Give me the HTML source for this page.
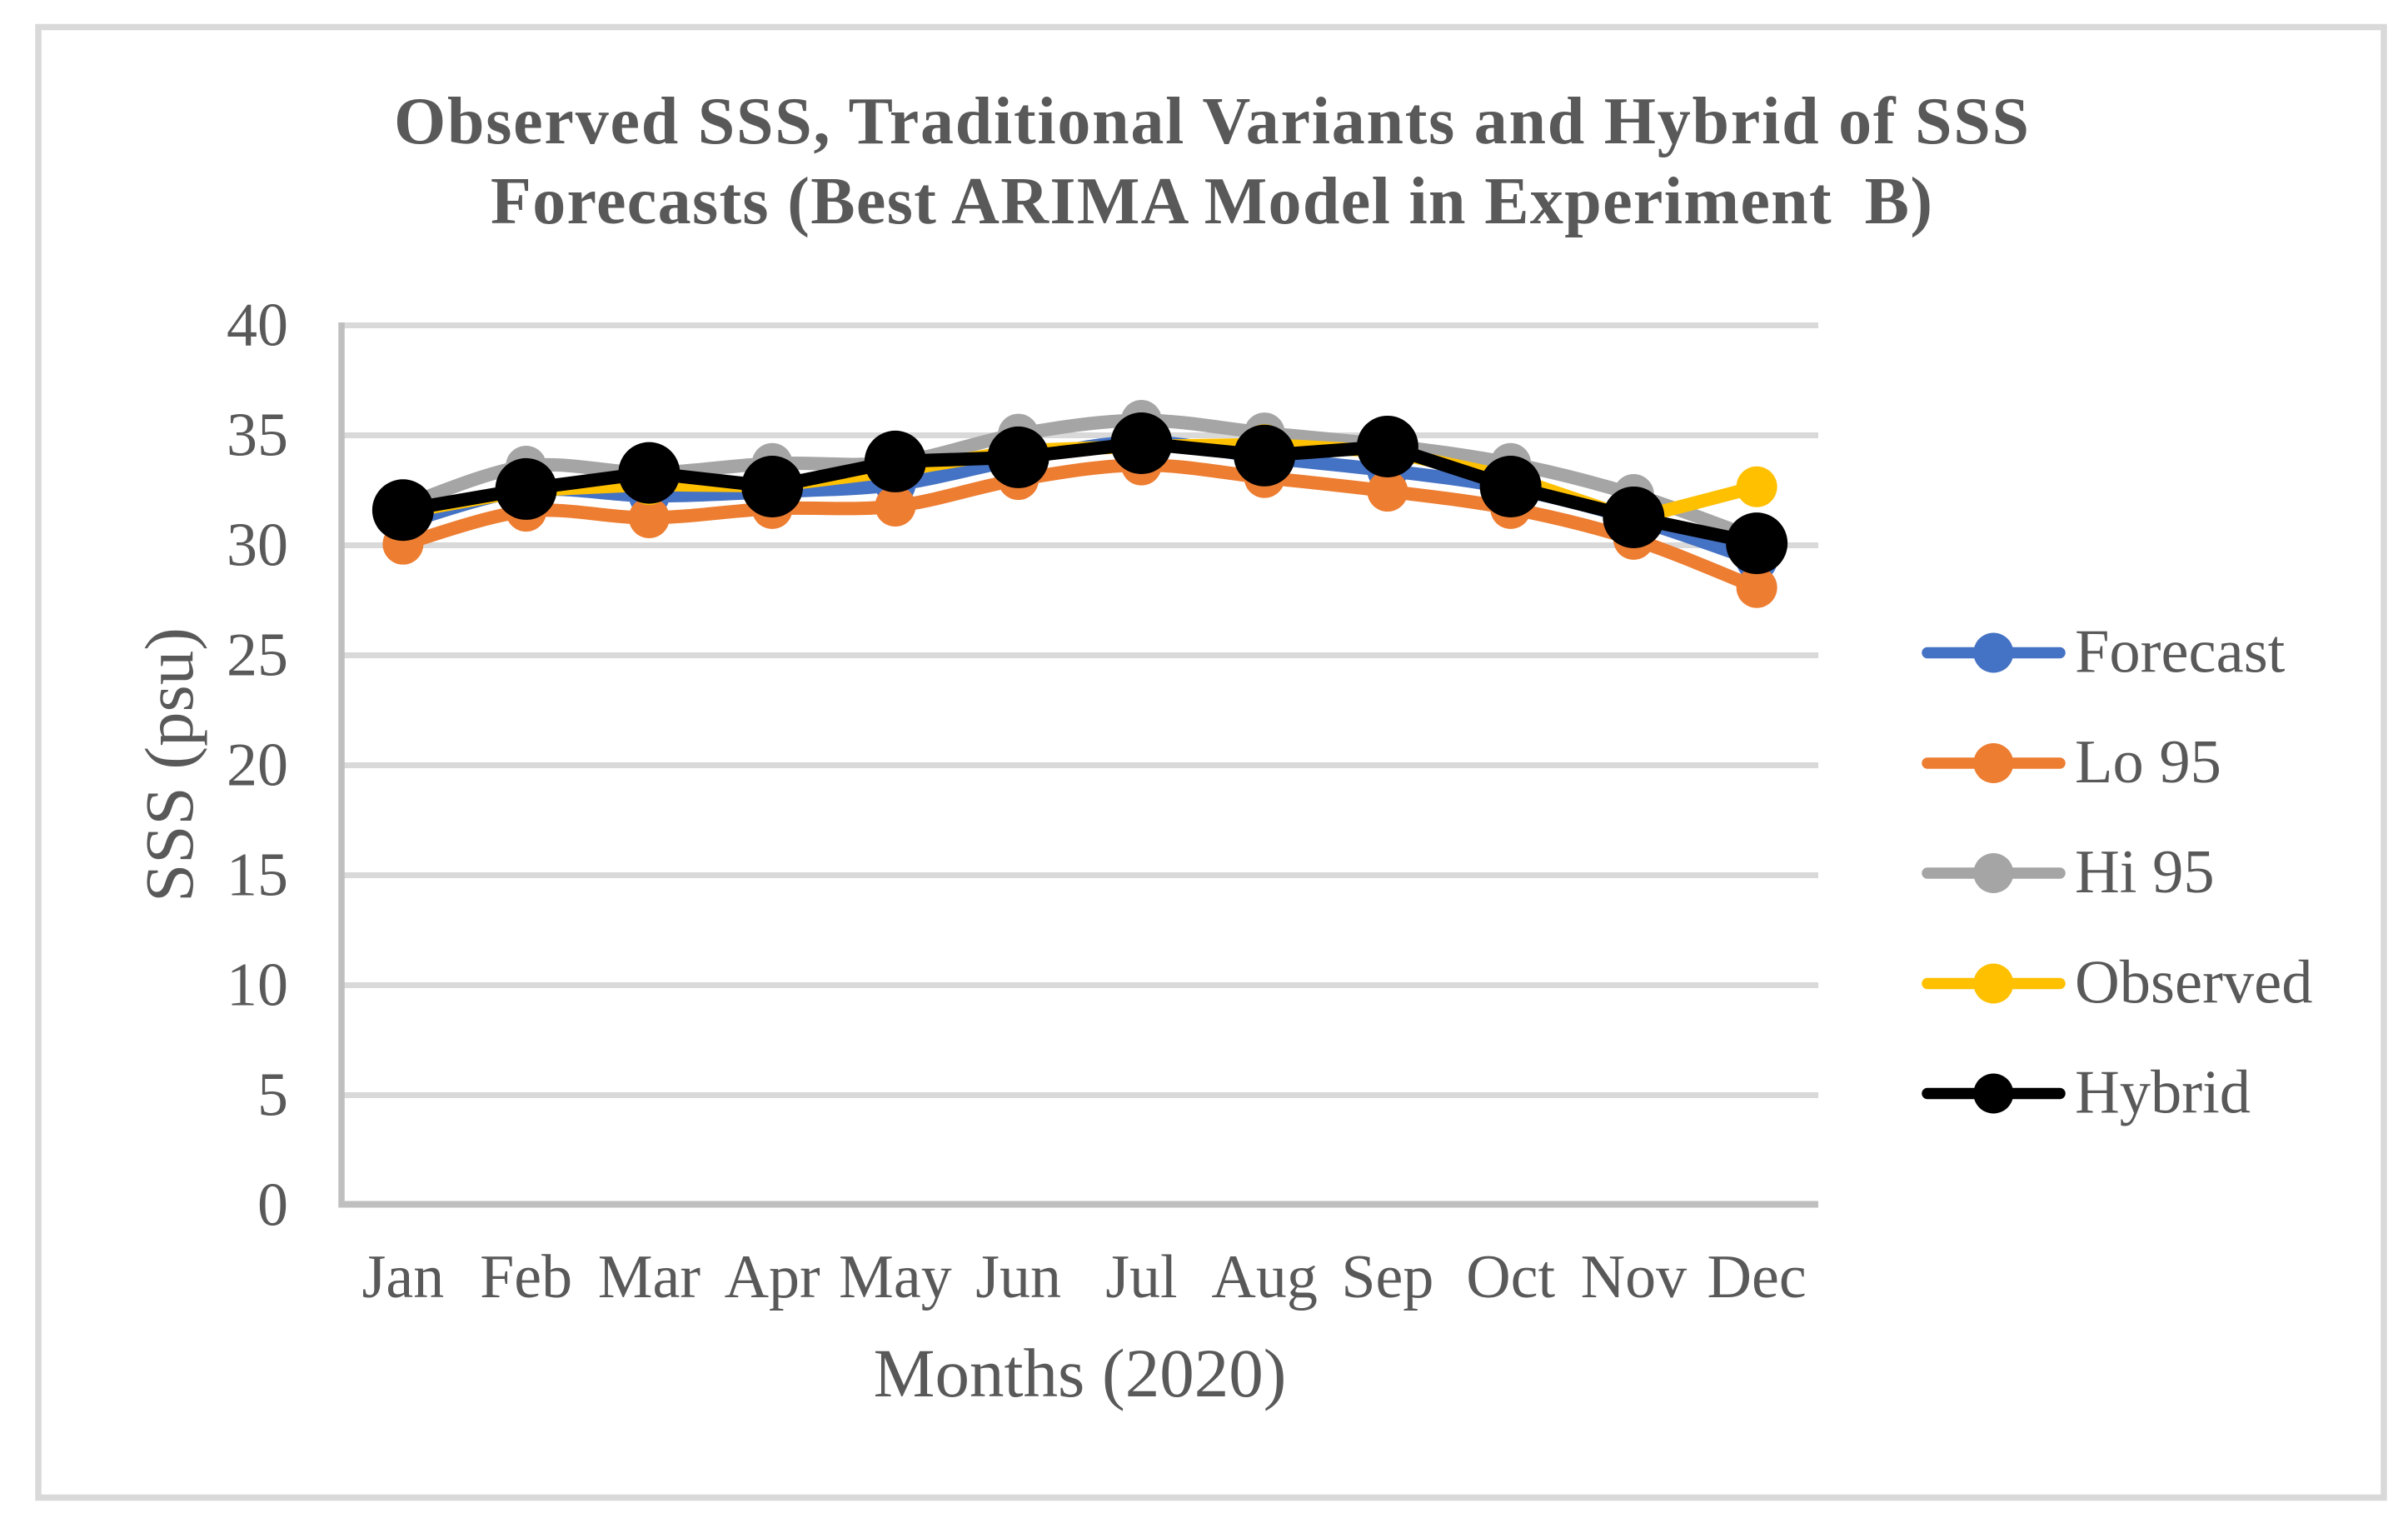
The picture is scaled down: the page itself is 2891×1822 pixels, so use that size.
<!DOCTYPE html>
<html lang="en">
<head>
<meta charset="utf-8">
<title>Observed SSS, Traditional Variants and Hybrid of SSS Forecasts</title>
<style>
  html, body { margin: 0; padding: 0; background: #fff; }
  svg { display: block; }
  text { font-family: "Liberation Serif", "Times New Roman", serif; fill: #595959; }
</style>
</head>
<body>
<svg id="chart" xmlns="http://www.w3.org/2000/svg" width="2891" height="1822" viewBox="0 0 2891 1822">
  <rect x="0" y="0" width="2891" height="1822" fill="#ffffff"/>
  <rect x="46" y="32.5" width="2816" height="1765" fill="#ffffff" stroke="#D9D9D9" stroke-width="7.5"/>
  <g font-weight="700" font-size="80" text-anchor="middle">
    <text x="1454.5" y="172" textLength="1963" lengthAdjust="spacing">Observed SSS, Traditional Variants and Hybrid of SSS</text>
    <text x="1454.5" y="268" textLength="1731" lengthAdjust="spacing">Forecasts (Best ARIMA Model in Experiment&#160;&#8201;B)</text>
  </g>
  <g id="grid"></g>
  <g id="axes"></g>
  <g id="ylabels" font-size="74" text-anchor="end"></g>
  <g id="xlabels" font-size="74" text-anchor="middle"></g>
  <text font-size="83" text-anchor="middle" transform="translate(231 918) rotate(-90)">SSS (psu)</text>
  <text font-size="83" text-anchor="middle" x="1296.5" y="1676">Months (2020)</text>
  <g id="series"></g>
  <g id="legend" font-size="74.5"></g>
</svg>
<script>
const months = ['Jan','Feb','Mar','Apr','May','Jun','Jul','Aug','Sep','Oct','Nov','Dec'];
const yTicks = [0, 5, 10, 15, 20, 25, 30, 35, 40];
const forecast = [31.0, 32.5, 32.25, 32.44, 32.76, 33.9, 34.7, 34.0, 33.4, 32.6, 31.2, 29.3];
const lo95 = [30.05, 31.55, 31.25, 31.67, 31.78, 32.99, 33.65, 33.08, 32.46, 31.67, 30.27, 28.08];
const hi95 = [31.8, 33.6, 33.3, 33.72, 33.77, 35.05, 35.68, 35.11, 34.55, 33.72, 32.31, 30.3];
const observed = [31.5, 32.5, 32.76, 32.7, 33.39, 34.3, 34.5, 34.58, 34.27, 33.1, 31.2, 32.66];
const hybrid = [31.6, 32.56, 33.29, 32.67, 33.81, 34.0, 34.64, 34.08, 34.49, 32.67, 31.27, 30.09];

const NS = 'http://www.w3.org/2000/svg';
const plotLeft = 410, plotRight = 2183, plotTop = 390.5, plotBottom = 1446.5;
const yMax = 40;

function xScale(i) {
  return plotLeft + (plotRight - plotLeft) * (i + 0.5) / months.length;
}
function yScale(v) {
  return plotBottom - (plotBottom - plotTop) * v / yMax;
}
function make(tag, attrs) {
  const el = document.createElementNS(NS, tag);
  for (const k in attrs) el.setAttribute(k, attrs[k]);
  return el;
}
function straightPath(values) {
  return values.map((v, i) => (i ? 'L' : 'M') + xScale(i).toFixed(1) + ' ' + yScale(v).toFixed(1)).join(' ');
}
function smoothPath(values) {
  const pts = values.map((v, i) => [xScale(i), yScale(v)]);
  let d = 'M' + pts[0][0].toFixed(1) + ' ' + pts[0][1].toFixed(1);
  for (let i = 0; i < pts.length - 1; i++) {
    const p0 = pts[Math.max(i - 1, 0)], p1 = pts[i], p2 = pts[i + 1], p3 = pts[Math.min(i + 2, pts.length - 1)];
    const c1x = p1[0] + (p2[0] - p0[0]) / 6, c1y = p1[1] + (p2[1] - p0[1]) / 6;
    const c2x = p2[0] - (p3[0] - p1[0]) / 6, c2y = p2[1] - (p3[1] - p1[1]) / 6;
    d += ' C' + c1x.toFixed(1) + ' ' + c1y.toFixed(1) + ' ' + c2x.toFixed(1) + ' ' + c2y.toFixed(1) + ' ' + p2[0].toFixed(1) + ' ' + p2[1].toFixed(1);
  }
  return d;
}

const gridG = document.getElementById('grid');
const yLabelG = document.getElementById('ylabels');
yTicks.forEach(t => {
  if (t !== 0) {
    const line = make('line', { x1: plotLeft, x2: plotRight, y1: yScale(t), y2: yScale(t), stroke: '#D9D9D9', 'stroke-width': 7 });
    
    
    gridG.appendChild(line);
  }
  const label = make('text', { x: 346, y: yScale(t) + 24 });
  
  
  label.textContent = t;
  yLabelG.appendChild(label);
});

const axesG = document.getElementById('axes');
const yAxis = make('line', { x1: plotLeft, x2: plotLeft, y1: plotTop - 3.5, y2: plotBottom + 3, stroke: '#BFBFBF', 'stroke-width': 7.5 });


axesG.appendChild(yAxis);
const xAxis = make('line', { x1: plotLeft - 3.5, x2: plotRight, y1: plotBottom - 1, y2: plotBottom - 1, stroke: '#BFBFBF', 'stroke-width': 8 });


axesG.appendChild(xAxis);

const xLabelG = document.getElementById('xlabels');
months.forEach((m, i) => {
  const label = make('text', { x: xScale(i), y: 1557 });
  
  
  label.textContent = m;
  xLabelG.appendChild(label);
});

const seriesG = document.getElementById('series');
function drawSeries(key, values, color, smooth, radius) {
  const g = make('g', {});
  
  
  const path = make('path', {
    d: smooth ? smoothPath(values) : straightPath(values),
    fill: 'none', stroke: color, 'stroke-width': 16,
    'stroke-linecap': 'round', 'stroke-linejoin': 'round'
  });
  
  
  g.appendChild(path);
  values.forEach((v, i) => {
    const c = make('circle', { cx: xScale(i), cy: yScale(v), r: radius, fill: color });
    
    
    g.appendChild(c);
  });
  seriesG.appendChild(g);
}
drawSeries('forecast', forecast, '#4472C4', true, 24.5);
drawSeries('lo-95', lo95, '#ED7D31', true, 24.5);
drawSeries('hi-95', hi95, '#A5A5A5', true, 24.5);
drawSeries('observed', observed, '#FFC000', false, 24.5);
drawSeries('hybrid', hybrid, '#000000', false, 37);

const legendG = document.getElementById('legend');
function drawLegendEntry(key, label, color, y) {
  const g = make('g', {});
  
  
  const line = make('line', { x1: 2314, x2: 2473, y1: y, y2: y, stroke: color, 'stroke-width': 13.5, 'stroke-linecap': 'round' });
  
  
  g.appendChild(line);
  const dot = make('circle', { cx: 2393.3, cy: y, r: 24, fill: color });
  
  
  g.appendChild(dot);
  const txt = make('text', { x: 2491, y: y + 23 });
  
  
  txt.textContent = label;
  g.appendChild(txt);
  legendG.appendChild(g);
}
drawLegendEntry('forecast', 'Forecast', '#4472C4', 783.5);
drawLegendEntry('lo-95', 'Lo 95', '#ED7D31', 916);
drawLegendEntry('hi-95', 'Hi 95', '#A5A5A5', 1048);
drawLegendEntry('observed', 'Observed', '#FFC000', 1180.5);
drawLegendEntry('hybrid', 'Hybrid', '#000000', 1312.5);
</script>
</body>
</html>
